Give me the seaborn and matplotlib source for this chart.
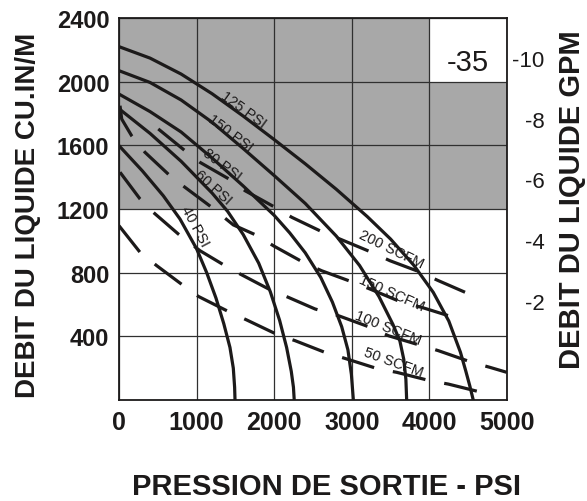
import matplotlib
matplotlib.use("Agg")
import matplotlib.pyplot as plt
import pandas as pd
import seaborn as sns
from matplotlib.patches import Rectangle

sns.set_theme(style="white")
plt.rcParams["font.family"] = ["Liberation Sans", "DejaVu Sans"]

# ---- axis scales -------------------------------------------------------
x_ticks = [0, 1000, 2000, 3000, 4000, 5000]
y_ticks = [400, 800, 1200, 1600, 2000, 2400]
gpm_ticks = [2, 4, 6, 8, 10]
gpm_labels = ["-2", "-4", "-6", "-8", "-10"]
gpm_range = [-1.28, 11.33]

# shaded high-flow zone and model box
shade_flow = [1200, 2400]
model_box_x = [4000, 5000]
model_box_y = [2000, 2400]
model_name = "-35"

# ---- drive air pressure curves (outlet PSI, liquid flow cu.in/min) ----
psi125_x = [0, 400, 800, 1200, 1600, 2000, 2400, 2800, 3200, 3500, 3800, 4050, 4250, 4400, 4470, 4520, 4550, 4565]
psi125_y = [2220, 2148, 2048, 1924, 1784, 1636, 1484, 1324, 1152, 1011, 846, 676, 496, 300, 180, 90, 30, 0]

psi150_x = [0, 400, 800, 1200, 1600, 2000, 2400, 2800, 3100, 3350, 3530, 3620, 3670, 3697, 3707]
psi150_y = [2069, 1995, 1885, 1745, 1580, 1410, 1235, 1030, 845, 650, 475, 370, 255, 130, 0]

psi80_x = [0, 400, 800, 1200, 1600, 2000, 2200, 2400, 2600, 2750, 2870, 2950, 2995, 3020]
psi80_y = [1922, 1812, 1684, 1520, 1345, 1160, 1050, 925, 770, 615, 460, 315, 160, 0]

psi60_x = [0, 400, 800, 1200, 1400, 1600, 1800, 1950, 2070, 2160, 2220, 2248, 2258]
psi60_y = [1830, 1675, 1500, 1300, 1185, 1040, 860, 680, 500, 330, 180, 80, 0]

psi40_x = [0, 300, 571, 786, 1000, 1130, 1250, 1350, 1430, 1473, 1490, 1495]
psi40_y = [1598, 1440, 1283, 1137, 950, 800, 640, 480, 330, 200, 80, 0]

# ---- air consumption curves (SCFM) ------------------------------------
scfm200_x = [506, 851, 1044, 1430, 1624, 2010, 2226, 2633, 2848, 3256, 3492, 3836, 4115, 4459]
scfm200_y = [1703, 1566, 1493, 1385, 1315, 1211, 1148, 1053, 1011, 928, 875, 812, 750, 677]

scfm150_x = [13, 35, 163, 335, 657, 851, 1194, 1473, 1795, 1989, 2375, 2612, 3020, 3235, 3643, 3901, 4309]
scfm150_y = [1849, 1765, 1660, 1556, 1409, 1336, 1211, 1100, 1030, 969, 865, 812, 739, 697, 614, 582, 520]

scfm100_x = [13, 271, 442, 764, 1044, 1366, 1559, 1946, 2182, 2526, 2826, 3235, 3471, 3901, 4115, 4545, 4781, 4996]
scfm100_y = [1431, 1263, 1179, 1043, 938, 844, 792, 693, 645, 572, 530, 457, 404, 341, 310, 237, 205, 174]

scfm50_x = [0, 271, 486, 843, 1022, 1430, 1645, 2053, 2268, 2650, 2934, 3342, 3578, 4008, 4244, 4674]
scfm50_y = [1095, 928, 844, 714, 651, 551, 503, 408, 373, 300, 258, 195, 174, 121, 100, 48]

# curve labels: text, position (PSI, cu.in/min), angle
psi_labels = ["125 PSI", "150 PSI", "80 PSI", "60 PSI", "40 PSI"]
psi_label_x = [1600, 1430, 1323, 1213, 980]
psi_label_y = [1828, 1683, 1483, 1338, 1095]
psi_label_rot = [-36, -37, -37, -42, -62]

scfm_labels = ["200 SCFM", "150 SCFM", "100 SCFM", "50 SCFM"]
scfm_label_x = [3514, 3514, 3471, 3536]
scfm_label_y = [949, 677, 457, 237]
scfm_label_rot = [-26, -24, -22, -20]

ink = "#1c1a1a"
shade = "#a8a8a8"

fig = plt.figure(figsize=(5.87, 5.02), dpi=100)
ax = fig.add_axes([119 / 587, 101 / 502, 388 / 587, 382 / 502])

# background zones
ax.axhspan(shade_flow[0], shade_flow[1], color=shade, zorder=0, lw=0)
ax.add_patch(Rectangle((model_box_x[0], model_box_y[0]),
                       model_box_x[1] - model_box_x[0],
                       model_box_y[1] - model_box_y[0],
                       facecolor="white", edgecolor="none", zorder=0.1))

solid = [(psi125_x, psi125_y), (psi150_x, psi150_y), (psi80_x, psi80_y),
         (psi60_x, psi60_y), (psi40_x, psi40_y)]
for xs, ys in solid:
    df = pd.DataFrame({"psi": xs, "flow": ys})
    sns.lineplot(data=df, x="psi", y="flow", sort=False, estimator=None,
                 color=ink, lw=2.3, ax=ax, zorder=3)
    ax.lines[-1].set_solid_joinstyle("round")

dashed = [(scfm200_x, scfm200_y), (scfm150_x, scfm150_y),
          (scfm100_x, scfm100_y), (scfm50_x, scfm50_y)]
for xs, ys in dashed:
    df = pd.DataFrame({"psi": xs, "flow": ys})
    sns.lineplot(data=df, x="psi", y="flow", sort=False, estimator=None,
                 color=ink, lw=2.3, ax=ax, zorder=3, dashes=False)
    ax.lines[-1].set_dashes((10.5, 6.0))
    ax.lines[-1].set_dash_capstyle("butt")

for t, x, y, r in zip(psi_labels, psi_label_x, psi_label_y, psi_label_rot):
    ax.text(x, y, t, rotation=r, rotation_mode="anchor", ha="center",
            va="center", fontsize=10.5, color=ink, zorder=4)
for t, x, y, r in zip(scfm_labels, scfm_label_x, scfm_label_y, scfm_label_rot):
    ax.text(x, y, t, rotation=r, rotation_mode="anchor", ha="center",
            va="center", fontsize=10.5, color=ink, zorder=4)

ax.text((model_box_x[0] + model_box_x[1]) / 2, 2125, model_name,
        ha="center", va="center", fontsize=21, color=ink, zorder=4)

ax.set_xlim(x_ticks[0], x_ticks[-1])
ax.set_ylim(0, y_ticks[-1])
ax.set_xticks(x_ticks)
ax.set_yticks(y_ticks)
ax.set_xticklabels([str(v) for v in x_ticks], fontsize=18, fontweight="bold", color=ink)
ax.set_yticklabels([str(v) for v in y_ticks], fontsize=17, fontweight="bold", color=ink)
ax.tick_params(axis="x", length=0, pad=7)
ax.tick_params(axis="y", length=0, pad=7)
ax.set_axisbelow(True)
ax.grid(True, color="#303030", lw=0.9)
ax.set_xlabel("")
ax.set_ylabel("")
for s in ax.spines.values():
    s.set_visible(True)
    s.set_color(ink)
    s.set_linewidth(1.3)

ax2 = ax.twinx()
ax2.set_ylim(*gpm_range)
ax2.set_yticks(gpm_ticks)
ax2.set_yticklabels(gpm_labels, fontsize=16, color=ink, ha="right")
ax2.tick_params(axis="y", length=0, pad=27)
ax2.grid(False)
for s in ax2.spines.values():
    s.set_visible(False)

fig.text(28.5 / 587, 1 - 215 / 502, "DEBIT DU LIQUIDE CU.IN/M", rotation=90,
         ha="center", va="center", fontsize=20, fontweight="bold", color=ink)
fig.text(572 / 587, 1 - 200 / 502, "DEBIT DU LIQUIDE GPM", rotation=90,
         ha="center", va="center", fontsize=21, fontweight="bold", color=ink)
fig.text(327 / 587, 1 - 487 / 502, "PRESSION DE SORTIE - PSI",
         ha="center", va="center", fontsize=21, fontweight="bold", color=ink)

fig.savefig("out.png", dpi=100, facecolor="white")
